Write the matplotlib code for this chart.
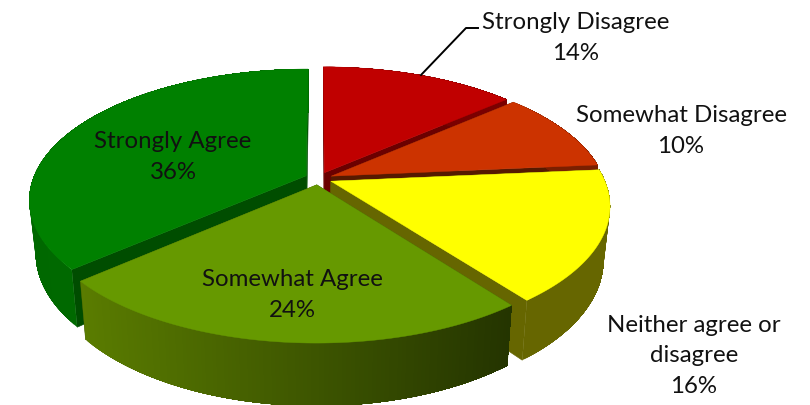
import numpy as np
import matplotlib
matplotlib.use("Agg")
import matplotlib.pyplot as plt
from matplotlib.patches import Polygon
from matplotlib.colors import to_rgb

categories = ["Strongly Disagree", "Somewhat Disagree", "Neither agree or\ndisagree", "Somewhat Agree", "Strongly Agree"]
values = [14, 10, 16, 24, 36]
top_colors = ["#C00000", "#CC3300", "#FFFF00", "#669900", "#008000"]
wall_colors = ["#6B0000", "#561A00", "#666600", "#3F5C00", "#004D00"]
rim_left = ["#7A0000", "#7A1F00", "#666600", "#5A7C00", "#006800"]
rim_right = ["#7A0000", "#7A1F00", "#666600", "#243400", "#007000"]
label_pos = [(576, 38), (681, 131), (694, 356), (292, 295), (173, 157)]
draw_order = [0, 1, 4, 2, 3]

CX, CY = 318.5, 178.5
A, B, K = 127.0, 273.0, 0.181
EXPLODE = 0.05
DEPTH = 51.0
SHRINK = 0.978
WARP = np.radians(1.6)

plt.rcParams['font.family'] = ['Lato', 'DejaVu Sans']
fig = plt.figure(figsize=(8.10, 4.05), dpi=100)
ax = fig.add_axes([0, 0, 1, 1])
ax.set_xlim(0, 810)
ax.set_ylim(405, 0)
ax.axis("off")


def project(X, Y):
    s = 1.0 / (1.0 + K * Y)
    return CX + B * X * s, CY - A * Y * s, s


def drop(x, y, s):
    return CX + (x - CX) * SHRINK, y + DEPTH * s


frac = np.array(values, dtype=float) / sum(values)
edges = np.concatenate([[0.0], np.cumsum(frac)]) * 2 * np.pi

for i in draw_order:
    t0, t1 = edges[i], edges[i + 1]
    mid = (t0 + t1) / 2
    ox, oy = EXPLODE * np.sin(mid), EXPLODE * np.cos(mid)
    ts = np.linspace(t0, t1, 120)
    ts = ts - WARP * np.sqrt(np.abs(np.sin(ts)))
    px, py, ps = project(ox + np.sin(ts), oy + np.cos(ts))
    ax_, ay_, as_ = project(ox, oy)
    bx, by = drop(px, py, ps)
    abx, aby = drop(ax_, ay_, as_)

    # cut faces
    for j in (0, -1):
        q = [(ax_, ay_), (px[j], py[j]), (bx[j], by[j]), (abx, aby)]
        ax.add_patch(Polygon(q, closed=True, fc=wall_colors[i], ec=wall_colors[i], lw=0.4))

    # outer rim, shaded from side to side; bands overlap so no seams show
    c0, c1 = np.array(to_rgb(rim_left[i])), np.array(to_rgb(rim_right[i]))
    xmin, xmax = px.min(), px.max()
    n = len(ts)
    idx = np.arange(n) if px[0] < px[-1] else np.arange(n)[::-1]
    for k in range(n - 1):
        tail = idx[k:]
        f = (px[idx[k]] - xmin) / max(xmax - xmin, 1)
        col = c0 + (c1 - c0) * f
        q = np.vstack([np.column_stack([px[tail], py[tail]]),
                       np.column_stack([bx[tail], by[tail]])[::-1]])
        ax.add_patch(Polygon(q, closed=True, fc=col, ec="none", lw=0))

    # top face
    ax.add_patch(Polygon(np.column_stack([np.r_[ax_, px], np.r_[ay_, py]]), closed=True,
                         fc=top_colors[i], ec=top_colors[i], lw=0.3))

for name, v, (x, y) in zip(categories, values, label_pos):
    ax.text(x, y, f"{name}\n{v}%", ha="center", va="center", fontsize=17.3,
            color="#111111", linespacing=1.56)

ax.plot([421, 466, 478], [75, 28, 28], color="black", lw=1.4, solid_joinstyle="round")

fig.savefig("out.png", dpi=100)
